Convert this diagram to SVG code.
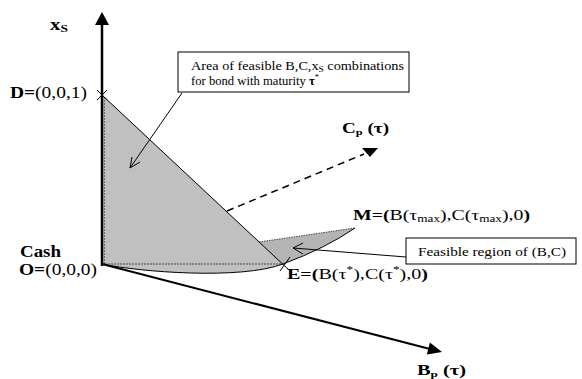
<svg xmlns="http://www.w3.org/2000/svg" width="582" height="379" viewBox="0 0 582 379">
<style>
text{font-family:"Liberation Serif","Times New Roman",serif;fill:#000}
.b{font-weight:bold}
.thin{stroke:#000;stroke-width:1;fill:none}
.box{fill:#fff;stroke:#000;stroke-width:1}
</style>
<rect width="582" height="379" fill="#fff"/>
<g id="regions">
<path d="M102,95 L283,264 C240,280 140,272 102,264 Z" fill="#c0c0c0"/>
<path d="M259,242 L355,228 Q326,248 283,264 Z" fill="#b4b4b4"/>
<line x1="102" y1="264" x2="283" y2="264" stroke="#444" stroke-width="1" stroke-dasharray="2,1"/>
<line x1="104.5" y1="97" x2="104.5" y2="264" stroke="#555" stroke-width="0.8" stroke-dasharray="2,1"/>
<line x1="259" y1="242" x2="355" y2="228" stroke="#444" stroke-width="1" stroke-dasharray="1.5,1"/>
<line class="thin" x1="102" y1="95" x2="289" y2="270"/>
<path class="thin" d="M102,264 C140,272 240,280 283,264 Q326,248 355,228"/>
<line class="thin" x1="280" y1="271" x2="290" y2="257"/>
<line class="thin" x1="97" y1="90" x2="107" y2="100"/>
<line class="thin" x1="97" y1="100" x2="107" y2="90"/>
</g>
<g id="connectors">
<line x1="102" y1="266" x2="102" y2="22" stroke="#000" stroke-width="2.5"/>
<polygon points="102,12 109,25 95,25" fill="#000"/>
<line x1="102" y1="264" x2="430" y2="349" stroke="#000" stroke-width="2"/>
<polygon points="442,352 426.9,354.5 429.9,342.5" fill="#000"/>
<line x1="227" y1="211" x2="364" y2="154" stroke="#000" stroke-width="1.5" stroke-dasharray="7,5"/>
<polygon points="362,148 378,148 370,157" fill="#000"/>
<line class="thin" x1="182" y1="93" x2="130" y2="168"/>
<polyline class="thin" points="140,162 130,168 132,157"/>
<line class="thin" x1="406" y1="257" x2="293" y2="248"/>
<polyline class="thin" points="303,243 293,248 303,254"/>
</g>
<g id="axis-xs"><text class="b" x="50" y="30" font-size="17" textLength="18" lengthAdjust="spacingAndGlyphs">x<tspan font-size="11" dy="2">S</tspan></text></g>
<g id="node-D"><text x="10" y="98" font-size="16" textLength="77" lengthAdjust="spacingAndGlyphs"><tspan class="b">D=</tspan>(0,0,1)</text></g>
<g id="node-O">
<text class="b" x="20" y="257" font-size="16" textLength="41" lengthAdjust="spacingAndGlyphs">Cash</text>
<text x="19" y="275" font-size="16" textLength="78" lengthAdjust="spacingAndGlyphs"><tspan class="b">O=</tspan>(0,0,0)</text>
</g>
<g id="callout-area">
<rect class="box" x="178" y="52" width="231" height="40"/>
<text x="191" y="70" font-size="12" textLength="213" lengthAdjust="spacingAndGlyphs">Area of feasible B,C,x<tspan font-size="8" dy="2">S</tspan><tspan dy="-2"> combinations</tspan></text>
<text x="191" y="85" font-size="12" textLength="128" lengthAdjust="spacingAndGlyphs">for bond with maturity <tspan class="b">τ</tspan><tspan font-size="8" dy="-5">*</tspan></text>
</g>
<g id="axis-cp"><text class="b" x="342" y="133" font-size="14" textLength="47" lengthAdjust="spacingAndGlyphs">C<tspan font-size="9" dy="2">p</tspan><tspan dy="-2"> (τ)</tspan></text></g>
<g id="node-M"><text x="353" y="220" font-size="15" textLength="177" lengthAdjust="spacingAndGlyphs"><tspan class="b">M=(</tspan>B(τ<tspan font-size="10" dy="2">max</tspan><tspan dy="-2">),C(τ</tspan><tspan font-size="10" dy="2">max</tspan><tspan dy="-2">),0</tspan><tspan class="b">)</tspan></text></g>
<g id="callout-feasible">
<rect class="box" x="406" y="238" width="170" height="26"/>
<text x="418" y="256" font-size="12" textLength="148" lengthAdjust="spacingAndGlyphs">Feasible region of (B,C)</text>
</g>
<g id="node-E"><text x="287" y="279" font-size="15" textLength="141" lengthAdjust="spacingAndGlyphs"><tspan class="b">E=(</tspan>B(τ<tspan font-size="10" dy="-6">*</tspan><tspan dy="6">),C(τ</tspan><tspan font-size="10" dy="-6">*</tspan><tspan dy="6">),0</tspan><tspan class="b">)</tspan></text></g>
<g id="axis-bp"><text class="b" x="417" y="375" font-size="14" textLength="49" lengthAdjust="spacingAndGlyphs">B<tspan font-size="9" dy="2">p</tspan><tspan dy="-2"> (τ)</tspan></text></g>
</svg>
